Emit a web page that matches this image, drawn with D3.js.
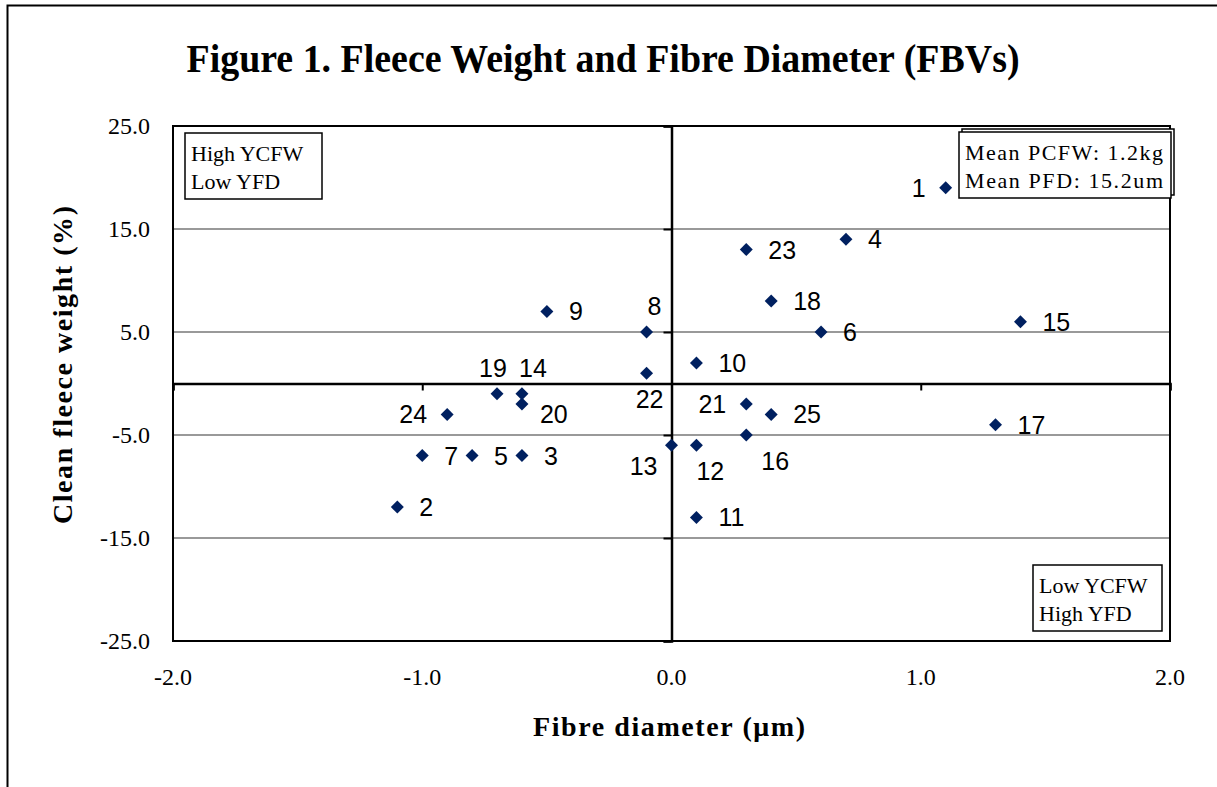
<!DOCTYPE html>
<html>
<head>
<meta charset="utf-8">
<script src="https://cdn.jsdelivr.net/npm/d3@7"></script>
<style>
  body { margin: 0; background: #fff; }
  svg { display: block; }
</style>
</head>
<body>
<div id="chart"></div>
<script>
// sire ids with their fibre diameter and clean fleece weight FBVs
var sireIds = ["1", "2", "3", "4", "5", "6", "7", "8", "9", "10", "11", "12", "13",
  "14", "15", "16", "17", "18", "19", "20", "21", "22", "23", "24", "25"];
var fibreDiameter = [1.1, -1.1, -0.6, 0.7, -0.8, 0.6, -1.0, -0.1, -0.5, 0.1, 0.1, 0.1, 0.0,
  -0.6, 1.4, 0.3, 1.3, 0.4, -0.7, -0.6, 0.3, -0.1, 0.3, -0.9, 0.4];
var fleeceWeight = [19, -12, -7, 14, -7, 5, -7, 5, 7, 2, -13, -6, -6,
  -1, 6, -5, -4, 8, -1, -2, -2, 1, 13, -3, -3];

var xTicks = [-2, -1, 0, 1, 2];
var yTicks = [-25, -15, -5, 5, 15, 25];

// where excel put each data label
var labelSide = {
  "1": "left", "8": "above", "22": "below", "19": "aboveleft", "14": "aboveright",
  "20": "belowright", "24": "left", "21": "left", "16": "belowright",
  "13": "belowleft", "12": "belowright"
};

var W = 1217, H = 787;
var serif = "Liberation Serif, Times New Roman, serif";
var sans = "Liberation Sans, Arial, sans-serif";
var svg = d3.select("#chart").append("svg").attr("width", W).attr("height", H);

// outer frame (left + top only visible)
svg.append("path").attr("d", "M7.5," + H + " L7.5,5.5 L" + W + ",5.5")
  .attr("fill", "none").attr("stroke", "#000").attr("stroke-width", 2);

var x = d3.scaleLinear().domain([-2, 2]).range([173, 1170]);
var y = d3.scaleLinear().domain([-25, 25]).range([641, 126]);
var fmt = function (d) { return d.toFixed(1); };

svg.append("text")
  .attr("x", 603).attr("y", 72).attr("text-anchor", "middle")
  .attr("font-family", serif)
  .attr("font-weight", "bold").attr("font-size", 39)
  .attr("textLength", 833).attr("lengthAdjust", "spacingAndGlyphs")
  .text("Figure 1.  Fleece Weight and Fibre Diameter (FBVs)");

// gridlines
svg.append("g").selectAll("line").data(yTicks.filter(function (t) { return Math.abs(t) < 25; }))
  .enter().append("line")
  .attr("x1", x(-2)).attr("x2", x(2))
  .attr("y1", function (d) { return y(d); }).attr("y2", function (d) { return y(d); })
  .attr("stroke", "#999").attr("stroke-width", 2);

// plot border
svg.append("rect").attr("x", x(-2)).attr("y", y(25))
  .attr("width", x(2) - x(-2)).attr("height", y(-25) - y(25))
  .attr("fill", "none").attr("stroke", "#000").attr("stroke-width", 2);

// zero axes with ticks
var xAxis = d3.axisBottom(x).tickValues(xTicks).tickSize(7).tickFormat("");
var yAxis = d3.axisLeft(y).tickValues(yTicks).tickSize(8).tickFormat("");
svg.append("g").attr("transform", "translate(0," + y(0) + ")").call(xAxis)
  .call(function (g) { g.select(".domain").attr("stroke-width", 2.5); g.selectAll(".tick line").attr("stroke-width", 2); });
svg.append("g").attr("transform", "translate(" + x(0) + ",0)").call(yAxis)
  .call(function (g) { g.select(".domain").attr("stroke-width", 2.5); g.selectAll(".tick line").attr("stroke-width", 2); });

// tick labels at the plot edges
svg.append("g").selectAll("text").data(yTicks).enter().append("text")
  .attr("x", 150).attr("y", function (d) { return y(d) + 8; })
  .attr("text-anchor", "end").attr("font-family", serif).attr("font-size", 24)
  .text(fmt);
svg.append("g").selectAll("text").data(xTicks).enter().append("text")
  .attr("x", function (d) { return x(d); }).attr("y", 685)
  .attr("text-anchor", "middle").attr("font-family", serif).attr("font-size", 24)
  .text(fmt);

svg.append("text").attr("x", 669).attr("y", 736).attr("text-anchor", "middle")
  .attr("font-family", serif).attr("font-weight", "bold").attr("font-size", 28)
  .attr("textLength", 272).attr("lengthAdjust", "spacing")
  .text("Fibre  diameter (\u03bcm)");
svg.append("text").attr("transform", "translate(72,365) rotate(-90)")
  .attr("text-anchor", "middle")
  .attr("font-family", serif).attr("font-weight", "bold").attr("font-size", 28)
  .attr("textLength", 318).attr("lengthAdjust", "spacing")
  .text("Clean fleece weight (%)");

// annotation boxes
function noteBox(x0, y0, w, h, lines, shadow, len) {
  var g = svg.append("g");
  if (shadow) {
    g.append("rect").attr("x", x0 + 3).attr("y", y0 - 3).attr("width", w).attr("height", h)
      .attr("fill", "#fff").attr("stroke", "#000").attr("stroke-width", 1.5);
  }
  g.append("rect").attr("x", x0).attr("y", y0).attr("width", w).attr("height", h)
    .attr("fill", "#fff").attr("stroke", "#000").attr("stroke-width", 1.5);
  var t = g.selectAll("text").data(lines).enter().append("text")
    .attr("x", x0 + 6).attr("y", function (d, i) { return y0 + 28 + i * 28; })
    .attr("font-family", serif).attr("font-size", 22)
    .text(function (d) { return d; });
  if (len) t.attr("textLength", len).attr("lengthAdjust", "spacing");
}
noteBox(185, 133, 137, 66, ["High YCFW", "Low YFD"]);
noteBox(959, 132, 212, 66, ["Mean PCFW: 1.2kg", "Mean PFD: 15.2um"], true, 198);
noteBox(1033, 565, 129, 66, ["Low YCFW", "High YFD"]);

// points
var pts = sireIds.map(function (id, i) {
  return { id: id, fd: fibreDiameter[i], fw: fleeceWeight[i] };
});
var sym = d3.symbol().type(d3.symbolSquare).size(84);
svg.append("g").selectAll("path").data(pts).enter().append("path")
  .attr("d", sym)
  .attr("transform", function (d) { return "translate(" + x(d.fd) + "," + y(d.fw) + ") rotate(45)"; })
  .attr("fill", "#002060");

var offsets = {
  right: [22, 9, "start"], left: [-20, 9, "end"], above: [8, -17, "middle"],
  below: [3, 35, "middle"], aboveleft: [-4, -17, "middle"], aboveright: [11, -17, "middle"],
  belowright: [0, 35, "start"], belowleft: [-14, 30, "end"]
};
svg.append("g").selectAll("text").data(pts).enter().append("text")
  .each(function (d) {
    var o = offsets[labelSide[d.id] || "right"];
    var dx = o[0], dy = o[1];
    if (d.id === "20") { dx = 18; dy = 19; }
    if (d.id === "16") dx = 15;
    d3.select(this).attr("x", x(d.fd) + dx).attr("y", y(d.fw) + dy).attr("text-anchor", o[2]);
  })
  .attr("font-family", sans).attr("font-size", 25)
  .attr("fill", "#000")
  .text(function (d) { return d.id; });
</script>
</body>
</html>
